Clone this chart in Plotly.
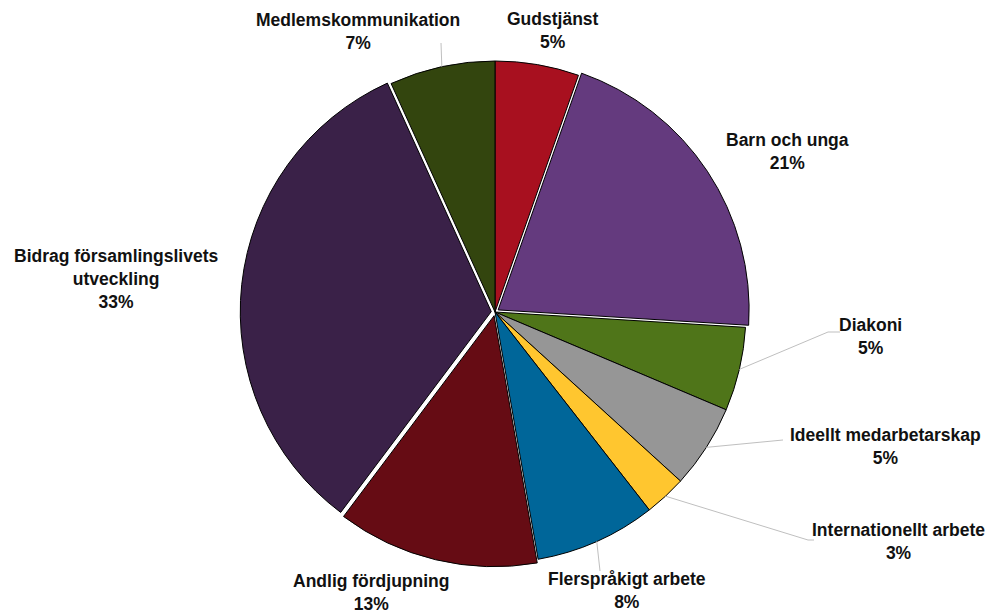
import math
import plotly.graph_objects as go

labels = ["Gudstjänst", "Barn och unga", "Diakoni", "Ideellt medarbetarskap",
          "Internationellt arbete", "Flerspråkigt arbete", "Andlig fördjupning",
          "Bidrag församlingslivets utveckling", "Medlemskommunikation"]
values = [5.4, 20.6, 5.4, 5.4, 2.7, 7.8, 13.0, 33.0, 6.8]
colors = ["#A8101F", "#643A7E", "#4F7519", "#969696", "#FFC62F",
          "#006699", "#660C14", "#3A2148", "#33450E"]
pulls = [0, 0.015, 0, 0, 0, 0, 0.015, 0.015, 0]

W, H = 993, 613
OFF = 8  # page body margin
CX, CY, R = 495, 312, 251
maxpull = max(pulls)
half = R * (1 + maxpull)

def px(x, y):
    return (x - OFF) / W, 1 - (y - OFF) / H

dx0, _ = px(CX - half, 0)
dx1, _ = px(CX + half, 0)
_, dy0 = px(0, CY + half)
_, dy1 = px(0, CY - half)

fig = go.Figure(go.Pie(
    labels=labels, values=values, sort=False, direction="clockwise", rotation=0,
    marker=dict(colors=colors, line=dict(color="black", width=1)),
    pull=pulls, textinfo="none", hoverinfo="label+percent",
    domain=dict(x=[dx0, dx1], y=[dy0, dy1]),
))

total = sum(values)
def edge_point(i):
    cum = sum(values[:i]) + values[i] / 2
    a = 2 * math.pi * cum / total
    r = R * (1 + pulls[i])
    return CX + r * math.sin(a), CY - r * math.cos(a)

# label positions (pixel centres) and leader line elbows
label_pos = {
    0: (553, 30, None),
    1: (787, 151, None),
    2: (870, 336, [(828, 332), (840, 332)]),
    3: (885, 446, [(783, 440)]),
    4: (898, 541, [(808, 540), (814, 540)]),
    5: (627, 590, [(600, 571)]),
    6: (371, 592, None),
    7: (116, 279, None),
    8: (358, 32, [(441, 43)]),
}

def pct_text(i):
    p = round(values[i] / total * 100)
    name = labels[i]
    if i == 7:
        name = "Bidrag församlingslivets<br>utveckling"
    return f"<b>{name}<br>{p}%</b>"

shapes = []
annotations = []
for i in range(len(labels)):
    lx, ly, elbows = label_pos[i]
    x, y = px(lx, ly)
    annotations.append(dict(x=x, y=y, xref="paper", yref="paper", text=pct_text(i),
                            showarrow=False, xanchor="center", yanchor="middle",
                            font=dict(family="Liberation Sans, Arial", size=17.5, color="#111111")))
    if elbows:
        pts = [edge_point(i)] + elbows
        for (x0, y0), (x1, y1) in zip(pts[:-1], pts[1:]):
            a0, b0 = px(x0, y0)
            a1, b1 = px(x1, y1)
            shapes.append(dict(type="line", xref="paper", yref="paper",
                               x0=a0, y0=b0, x1=a1, y1=b1,
                               line=dict(color="#BFBFBF", width=1)))

fig.update_layout(width=W, height=H, margin=dict(l=0, r=0, t=0, b=0),
                  paper_bgcolor="white", plot_bgcolor="white", showlegend=False,
                  shapes=shapes, annotations=annotations)
fig.write_html("out.html")
